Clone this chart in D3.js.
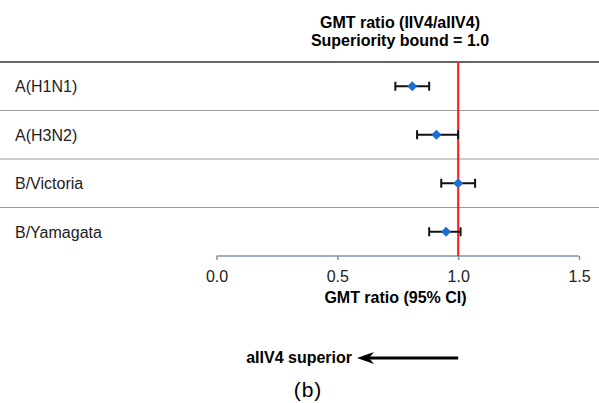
<!DOCTYPE html>
<html>
<head>
<meta charset="utf-8">
<script src="https://cdn.jsdelivr.net/npm/d3@7"></script>
<style>
body{margin:0;background:#fff}
text{font-family:"Liberation Sans",Arial,sans-serif}
</style>
</head>
<body>
<div id="chart"></div>
<script>
var strains=['A(H1N1)','A(H3N2)','B/Victoria','B/Yamagata']
var ratio=[0.81,0.91,1.0,0.95]
var lower=[0.74,0.83,0.93,0.88]
var upper=[0.88,1.0,1.07,1.01]
var ticks=[0.0,0.5,1.0,1.5]

var W=599,H=403
var svg=d3.select('#chart').append('svg')
    .attr('width',W).attr('height',H)

var x=d3.scaleLinear().domain([0,1.5]).range([216.5,579])
var y=d3.scaleBand().domain(strains).range([62,256])

// title
svg.append('text').attr('x',400).attr('y',28)
    .attr('text-anchor','middle').attr('font-size',16).attr('font-weight','bold')
    .text('GMT ratio (IIV4/aIIV4)')
svg.append('text').attr('x',400).attr('y',46)
    .attr('text-anchor','middle').attr('font-size',16).attr('font-weight','bold')
    .text('Superiority bound = 1.0')

// row separators
svg.append('line').attr('x1',0).attr('x2',W).attr('y1',62).attr('y2',62)
    .attr('stroke','#333').attr('stroke-width',1.5)
svg.selectAll('.sep').data(strains.slice(1)).enter().append('line')
    .attr('class','sep')
    .attr('x1',0).attr('x2',W)
    .attr('y1',function(d){return y(d)}).attr('y2',function(d){return y(d)})
    .attr('stroke','#9a9a9a').attr('stroke-width',1.2)

// labels
svg.selectAll('.lab').data(strains).enter().append('text')
    .attr('x',15).attr('y',function(d){return y(d)+y.bandwidth()/2+6})
    .attr('font-size',16).attr('fill','#222')
    .text(function(d){return d})

// axis
var axis=d3.axisBottom(x).tickValues(ticks).tickSize(4).tickFormat(d3.format('.1f'))
var ga=svg.append('g').attr('transform','translate(0,256)').call(axis)
ga.select('.domain').attr('stroke','#7f93ad').attr('stroke-width',1.5).attr('d','M'+x(0)+',0H'+x(1.5))
ga.selectAll('.tick line').attr('stroke','#7f93ad').attr('stroke-width',1.5)
ga.selectAll('.tick text').attr('y',26).attr('dy',null)
    .attr('font-size',16).attr('fill','#222')
    .attr('font-family','"Liberation Sans",Arial,sans-serif')

svg.append('text').attr('x',395.5).attr('y',303)
    .attr('text-anchor','middle').attr('font-size',16).attr('font-weight','bold')
    .text('GMT ratio (95% CI)')

// superiority bound
svg.append('line').attr('x1',x(1)).attr('x2',x(1)).attr('y1',62).attr('y2',256)
    .attr('stroke','#ff1a1a').attr('stroke-width',2)

// error bars
var g=svg.append('g')
strains.forEach(function(s,i){
    var cy=y(s)+y.bandwidth()/2
    g.append('line').attr('x1',x(lower[i])).attr('x2',x(upper[i]))
	.attr('y1',cy).attr('y2',cy).attr('stroke','#111').attr('stroke-width',2)
    ;[lower[i],upper[i]].forEach(function(v){
	g.append('line').attr('x1',x(v)).attr('x2',x(v))
	    .attr('y1',cy-4.5).attr('y2',cy+4.5).attr('stroke','#111').attr('stroke-width',2)
    })
    g.append('path')
	.attr('d',d3.symbol().type(d3.symbolDiamond2).size(64)())
	.attr('transform','translate('+x(ratio[i])+','+cy+')')
	.attr('fill','#1a6fcf')
})

// arrow
var ay=358
svg.append('line').attr('x1',x(1)).attr('x2',368).attr('y1',ay).attr('y2',ay)
    .attr('stroke','#000').attr('stroke-width',3)
svg.append('path')
    .attr('d','M357,'+ay+'L374,'+(ay-6)+'L369,'+ay+'L374,'+(ay+6)+'Z')
    .attr('fill','#000')
svg.append('text').attr('x',352).attr('y',363)
    .attr('text-anchor','end').attr('font-size',16).attr('font-weight','bold')
    .text('aIIV4 superior')

svg.append('text').attr('x',308).attr('y',397)
    .attr('text-anchor','middle').attr('font-size',21).attr('letter-spacing',1)
    .attr('font-family','"Liberation Serif","Times New Roman",serif')
    .text('(b)')
</script>
</body>
</html>
